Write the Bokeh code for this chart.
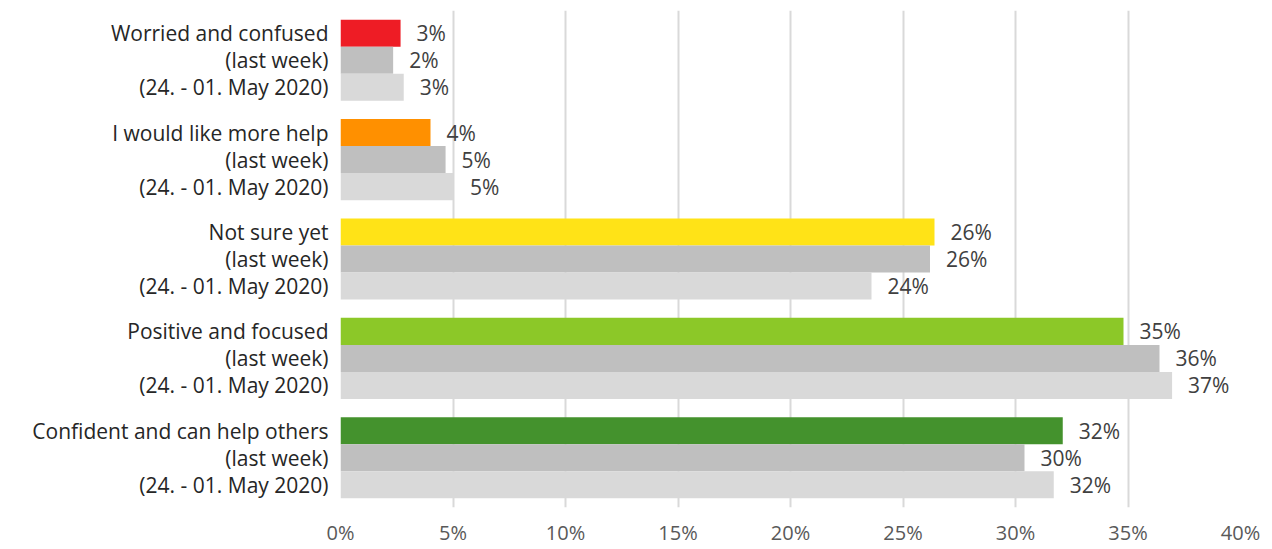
from bokeh.plotting import figure
from bokeh.models import Range1d, FixedTicker, ColumnDataSource, NumeralTickFormatter
from bokeh.core.properties import value
from bokeh.embed import file_html
from bokeh.resources import INLINE

# ---- data ----
groups = ["Worried and confused", "I would like more help", "Not sure yet",
          "Positive and focused", "Confident and can help others"]
period_labels = ["(last week)", "(24. - 01. May 2020)"]
current = [2.67, 4.0, 26.4, 34.8, 32.1]
last_week = [2.34, 4.67, 26.2, 36.4, 30.4]
earlier = [2.81, 5.04, 23.6, 36.96, 31.7]
group_colors = ["#EE1C25", "#FF9000", "#FFE317", "#8CC828", "#44922D"]
last_week_color = "#BFBFBF"
earlier_color = "#D9D9D9"
x_ticks = [0, 5, 10, 15, 20, 25, 30, 35, 40]

FONT = "Open Sans"
bar_h = 0.272

ys, vals, cols, labs, txt = [], [], [], [], []
for g, name in enumerate(groups):
    series = [(current[g], group_colors[g], name),
              (last_week[g], last_week_color, period_labels[0]),
              (earlier[g], earlier_color, period_labels[1])]
    for j, (v, c, lab) in enumerate(series):
        ys.append(g + (j - 1) * bar_h)
        vals.append(v)
        cols.append(c)
        labs.append(lab)
        txt.append(f"{round(v)}%")

src = ColumnDataSource(dict(y=ys, v=vals, c=cols, t=txt))

p = figure(width=1264, height=549, output_backend="svg", toolbar_location=None,
           x_range=Range1d(0, 40), y_range=Range1d(4.5, -0.5),
           min_border_left=340, min_border_right=24, min_border_top=10,
           min_border_bottom=42)
p.outline_line_color = None
p.background_fill_color = "white"
p.border_fill_color = "white"

p.hbar(y="y", left=0, right="v", height=bar_h, color="c", source=src, line_color=None)
p.text(x="v", y="y", text="t", source=src, x_offset=16,
       text_align="left", text_baseline="middle",
       text_font=value(FONT), text_font_size="21px", text_color="#404040")

# x axis
p.xaxis.ticker = FixedTicker(ticks=x_ticks)
p.xaxis.formatter = NumeralTickFormatter(format="0")
p.xaxis.major_label_overrides = {t: f"{t}%" for t in x_ticks}
p.xaxis.axis_line_color = None
p.xaxis.major_tick_line_color = None
p.xaxis.minor_tick_line_color = None
p.xaxis.major_tick_out = 0
p.xaxis.major_tick_in = 0
p.xaxis.minor_tick_out = 0
p.xaxis.major_label_standoff = 11
p.xaxis.major_label_text_font = FONT
p.xaxis.major_label_text_font_size = "20px"
p.xaxis.major_label_text_color = "#595959"

# y axis
p.yaxis.ticker = FixedTicker(ticks=ys)
p.yaxis.major_label_overrides = {y: l for y, l in zip(ys, labs)}
p.yaxis.axis_line_color = None
p.yaxis.major_tick_line_color = None
p.yaxis.minor_tick_line_color = None
p.yaxis.major_tick_out = 0
p.yaxis.major_tick_in = 0
p.yaxis.minor_tick_out = 0
p.yaxis.major_label_standoff = 12
p.yaxis.major_label_text_font = FONT
p.yaxis.major_label_text_font_size = "21px"
p.yaxis.major_label_text_color = "#262626"

p.xgrid.grid_line_color = "#D9D9D9"
p.xgrid.grid_line_width = 2
p.ygrid.grid_line_color = None

open("out.html", "w").write(file_html(p, INLINE))
